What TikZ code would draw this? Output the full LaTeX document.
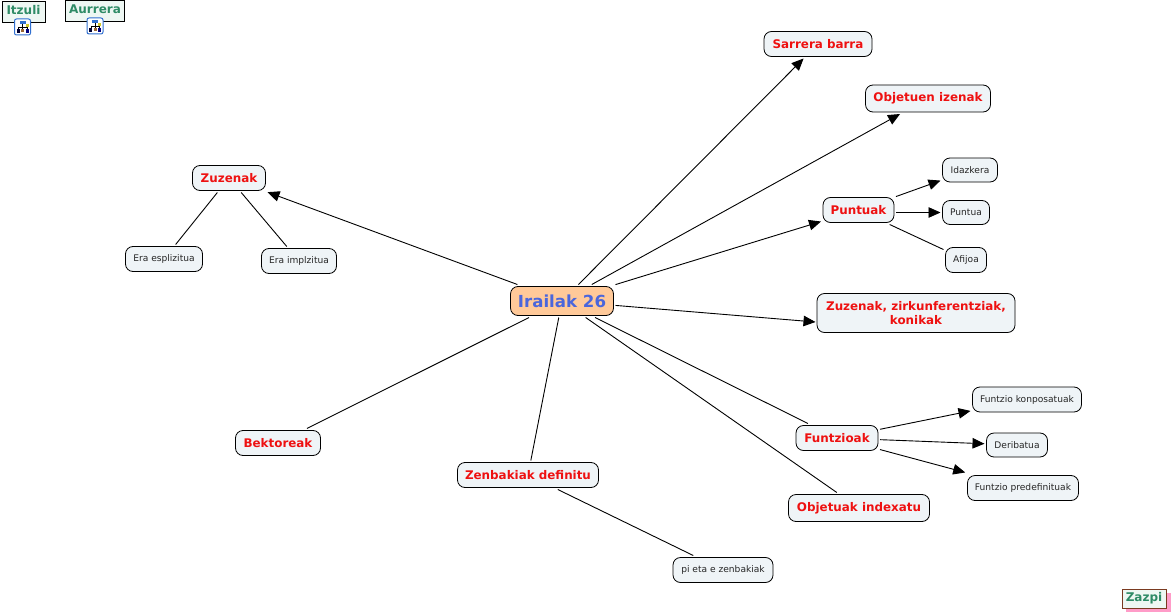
\documentclass[tikz,border=0pt]{standalone}
\usepackage{fontspec}
\setmainfont{DejaVu Sans}
\usetikzlibrary{arrows.meta}
\definecolor{nodefill}{HTML}{EFF4F7}
\definecolor{rootfill}{HTML}{FFC999}
\definecolor{rootblue}{HTML}{4A66DC}
\definecolor{linkgreen}{HTML}{2E8B66}
\definecolor{navfill}{HTML}{EEF7F3}
\definecolor{shadowpink}{HTML}{FF9CC8}
\definecolor{iconblue}{HTML}{2F6FD0}
\definecolor{zazpiborder}{HTML}{7A3A20}
\definecolor{conceptred}{HTML}{EE1111}
\tikzset{
  x=1pt,y=-1pt,
  concept/.style={draw=black,line width=0.8pt,rounded corners=7.5pt,fill=nodefill,inner sep=0pt,outer sep=2pt,align=center},
  mainbox/.style={concept,font=\fontsize{11.9}{14}\selectfont\bfseries,text=conceptred},
  subbox/.style={concept,font=\fontsize{9.1}{11}\selectfont,text=black!85},
  rootbox/.style={concept,fill=rootfill,font=\fontsize{16.6}{20}\selectfont\bfseries,text=rootblue},
  navbox/.style={draw=black,line width=0.8pt,fill=navfill,inner sep=0pt,font=\fontsize{12}{14}\selectfont\bfseries,text=linkgreen,text height=8pt,text depth=2pt},
  link/.style={line width=0.9pt,black},
  arrowlink/.style={link,-{Triangle[length=12pt,width=10.5pt]}},
}
\newcommand{\treeicon}[1]{%
  \begin{scope}[shift={(#1)}]
    \draw[iconblue,line width=1pt,fill=white,rounded corners=2pt] (-8,-8) rectangle (8,8);
    \draw[black,line width=0.5pt] (0,-3) -- (0,2) (-4,0) -- (4.5,0) (-4,0) -- (-4,2) (4.5,-2) -- (4.5,2);
    \fill[iconblue] (-3,-6) rectangle (3,-3);
    \fill[black!80!blue] (-6,2) rectangle (-3,6);
    \fill[brown!80!black] (-1.5,2) rectangle (1.5,5);
    \fill[yellow!80!black] (3,-3) rectangle (6,0);
    \fill[blue!50!black] (3,2) rectangle (6,6);
  \end{scope}}
\begin{document}
\begin{tikzpicture}
\useasboundingbox (0,0) rectangle (1172,615);
\fill[white] (0,0) rectangle (1172,615);
% navigation
\node[navbox,minimum width=43pt,minimum height=21pt] (itzuli) at (23.5,11.5) {Itzuli};
\node[navbox,minimum width=59pt,minimum height=21pt] (aurrera) at (95,11) {Aurrera};
\treeicon{22.5,27}
\treeicon{95,26}
\fill[shadowpink] (1126,593) rectangle (1170.5,612);
\node[navbox,draw=zazpiborder,minimum width=44pt,minimum height=19pt] (zazpi) at (1144,598.5) {Zazpi};
% concepts
\node[rootbox,minimum width=103pt,minimum height=29pt] (root) at (562,301) {Irailak 26};
\node[mainbox,minimum width=108pt,minimum height=25pt] (sarrera) at (818,44) {Sarrera barra};
\node[mainbox,minimum width=125pt,minimum height=27pt] (izenak) at (928,98.5) {Objetuen izenak};
\node[mainbox,minimum width=71pt,minimum height=25pt] (puntuak) at (858.5,210) {Puntuak};
\node[subbox,minimum width=55pt,minimum height=24pt] (idazkera) at (970,170) {Idazkera};
\node[subbox,minimum width=47pt,minimum height=24pt] (puntua) at (966,212.5) {Puntua};
\node[subbox,minimum width=41pt,minimum height=25pt] (afijoa) at (966,260) {Afijoa};
\node[mainbox,minimum width=198pt,minimum height=39pt] (konikak) at (916,313) {Zuzenak, zirkunferentziak,\\konikak};
\node[mainbox,minimum width=82pt,minimum height=25pt] (funtzioak) at (837,438) {Funtzioak};
\node[subbox,minimum width=109pt,minimum height=25pt] (konposatuak) at (1027,399.5) {Funtzio konposatuak};
\node[subbox,minimum width=61pt,minimum height=24pt] (deribatua) at (1017,445) {Deribatua};
\node[subbox,minimum width=111pt,minimum height=25pt] (predefinituak) at (1023,488) {Funtzio predefinituak};
\node[mainbox,minimum width=141pt,minimum height=27pt] (indexatu) at (859,508) {Objetuak indexatu};
\node[mainbox,minimum width=141pt,minimum height=25pt] (definitu) at (528,475) {Zenbakiak definitu};
\node[subbox,minimum width=100pt,minimum height=25pt] (pieta) at (723,570) {pi eta e zenbakiak};
\node[mainbox,minimum width=85pt,minimum height=25pt] (bektoreak) at (278,443) {Bektoreak};
\node[mainbox,minimum width=73pt,minimum height=25pt] (zuzenak) at (229,178) {Zuzenak};
\node[subbox,minimum width=77pt,minimum height=25pt] (esplizitua) at (164,259) {Era esplizitua};
\node[subbox,minimum width=75pt,minimum height=25pt] (implzitua) at (299,261) {Era implzitua};
\coordinate (konikakin) at (815.5,322);
% connectors
\draw[arrowlink] (root) -- (sarrera);
\draw[arrowlink] (root) -- (izenak);
\draw[arrowlink] (root) -- (puntuak);
\draw[arrowlink] (root) -- (konikakin);
\draw[arrowlink] (root) -- (zuzenak);
\draw[link] (root) -- (funtzioak);
\draw[link] (root) -- (indexatu);
\draw[link] (root) -- (definitu);
\draw[link] (root) -- (bektoreak);
\draw[link] (zuzenak) -- (esplizitua);
\draw[link] (zuzenak) -- (implzitua);
\draw[arrowlink] (puntuak) -- (idazkera);
\draw[arrowlink] (puntuak.east |- puntua.west) -- (puntua.west);
\draw[link] (puntuak) -- (afijoa);
\draw[arrowlink] (funtzioak) -- (konposatuak);
\draw[arrowlink] (funtzioak) -- (deribatua);
\draw[arrowlink,shorten >=4pt] (funtzioak) -- (predefinituak);
\draw[link] (definitu) -- (pieta);
\end{tikzpicture}
\end{document}
